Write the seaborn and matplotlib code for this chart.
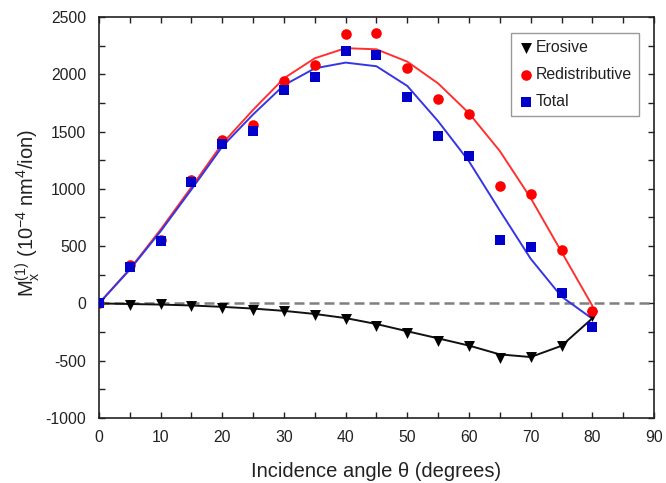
import numpy as np
import pandas as pd
import matplotlib
matplotlib.use("Agg")
import matplotlib.pyplot as plt
from matplotlib.ticker import MultipleLocator
import seaborn as sns

# ---------------- data ----------------
angles = [0, 5, 10, 15, 20, 25, 30, 35, 40, 45, 50, 55, 60, 65, 70, 75, 80]

erosive = [0, -18, -9, -26, -41, -55, -70, -105, -140, -193, -255, -325, -374, -480, -471, -368, -114]
redistributive = [0, 335, 550, 1079, 1430, 1553, 1939, 2082, 2351, 2360, 2053, 1781, 1649, 1026, 953, 465, -70]
total = [0, 319, 544, 1059, 1395, 1503, 1862, 1974, 2199, 2170, 1801, 1459, 1283, 553, 490, 94, -202]

# fitted curves
erosive_fit = [0, -5, -10, -18, -30, -45, -65, -92, -128, -180, -243, -305, -368, -445, -468, -370, -130]
redistributive_fit = [0, 300, 645, 1015, 1395, 1690, 1965, 2140, 2228, 2218, 2110, 1920, 1660, 1330, 920, 450, -20]
total_fit = [0, 295, 630, 995, 1370, 1650, 1905, 2052, 2102, 2070, 1898, 1590, 1240, 810, 390, 60, -134]

series_labels = ["Erosive", "Redistributive", "Total"]
x_label = "Incidence angle θ (degrees)"
y_label = r"M$_\mathregular{x}^\mathregular{(1)}$ (10$^\mathregular{-4}$ nm$^\mathregular{4}$/ion)"

# ---------------- style ----------------
sns.set_style("ticks")
plt.rcParams["font.family"] = ["Liberation Sans", "DejaVu Sans"]
plt.rcParams["mathtext.fontset"] = "custom"
plt.rcParams["mathtext.rm"] = "Liberation Sans"
plt.rcParams["mathtext.it"] = "Liberation Sans:italic"
plt.rcParams["mathtext.bf"] = "Liberation Sans:bold"
plt.rcParams["axes.unicode_minus"] = False

fig = plt.figure(figsize=(6.66, 4.83), dpi=100)
ax = fig.add_axes([0.1486, 0.1346, 0.8334, 0.8302])

red = "#ff0000"
red_line = "#ff3030"
blue = "#0000cc"
blue_line = "#3535e6"

ax.axhline(0, color="#808080", lw=1.8, dashes=(4, 2), zorder=1)

sns.lineplot(x=angles, y=erosive_fit, color="#111111", lw=1.4, ax=ax, zorder=2)
sns.lineplot(x=angles, y=redistributive_fit, color=red_line, lw=1.4, ax=ax, zorder=2)
sns.lineplot(x=angles, y=total_fit, color=blue_line, lw=1.4, ax=ax, zorder=2)

sns.scatterplot(x=angles, y=erosive, marker="v", s=62, color="black", linewidth=0,
                ax=ax, label=series_labels[0], zorder=3)
sns.scatterplot(x=angles, y=redistributive, marker="o", s=58, color=red, linewidth=0,
                ax=ax, label=series_labels[1], zorder=3)
sns.scatterplot(x=angles, y=total, marker="s", s=46, color=blue, linewidth=0,
                ax=ax, label=series_labels[2], zorder=4)

ax.set_xlim(0, 90)
ax.set_ylim(-1000, 2500)
ax.xaxis.set_major_locator(MultipleLocator(10))
ax.xaxis.set_minor_locator(MultipleLocator(5))
ax.yaxis.set_major_locator(MultipleLocator(500))
ax.yaxis.set_minor_locator(MultipleLocator(250))
ax.tick_params(which="both", direction="in", top=True, right=True, length=4,
               width=1, color="#222222")
ax.tick_params(which="major", labelsize=11.3, labelcolor="#222222", pad=9)
for sp in ax.spines.values():
    sp.set_linewidth(1.2)
    sp.set_color("#222222")

ax.set_xlabel(x_label, fontsize=14.5, color="#222222", labelpad=12)
ax.set_ylabel(y_label, fontsize=14.5, color="#222222")
ax.yaxis.set_label_coords(-0.102, 0.512)

leg = ax.legend(loc="upper right", bbox_to_anchor=(0.9735, 0.9593), borderaxespad=0,
                fontsize=11.4, frameon=True, fancybox=False, shadow=False,
                handlelength=1.0, handletextpad=0.15, labelspacing=0.75,
                borderpad=0.45, markerscale=1.0)
leg.get_frame().set_edgecolor("#808080")
leg.get_frame().set_linewidth(1.0)
for t in leg.get_texts():
    t.set_color("#222222")

fig.savefig("out.png", dpi=100)
